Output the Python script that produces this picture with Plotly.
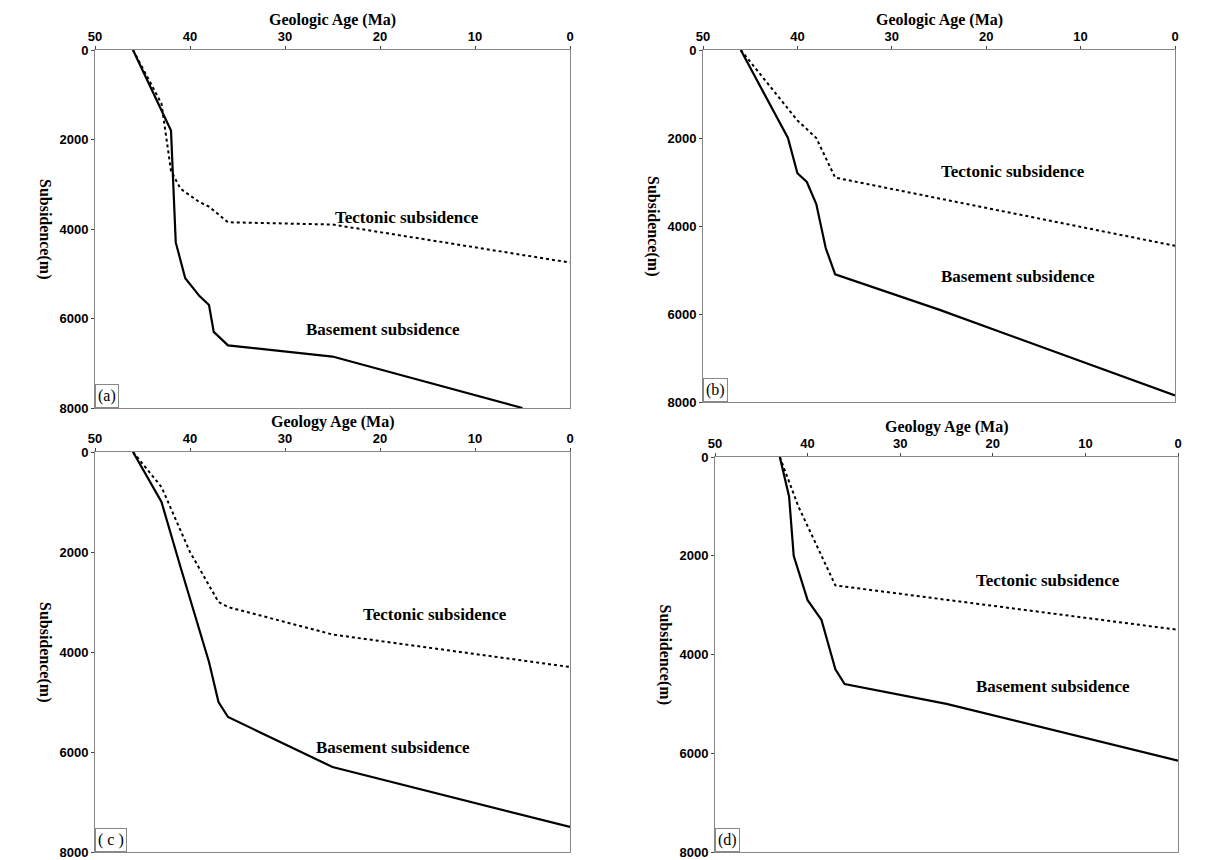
import plotly.graph_objects as go

# Panel data (age Ma, subsidence m)
a_base_x = [46, 42, 41.5, 40.5, 39, 38, 37.5, 36, 25, 5]
a_base_y = [0, 1800, 4300, 5100, 5500, 5700, 6300, 6600, 6850, 8000]
a_tect_x = [46, 43, 42, 41, 39, 38, 36, 25, 0]
a_tect_y = [0, 1200, 2700, 3100, 3400, 3500, 3850, 3900, 4750]

b_base_x = [46, 41, 40, 39, 38, 37, 36, 25, 0]
b_base_y = [0, 2000, 2800, 3000, 3500, 4500, 5100, 5900, 7850]
b_tect_x = [46, 40, 38, 36, 0]
b_tect_y = [0, 1600, 2000, 2900, 4450]

c_base_x = [46, 43, 41, 39, 38, 37, 36, 25, 0]
c_base_y = [0, 1000, 2300, 3600, 4200, 5000, 5300, 6300, 7500]
c_tect_x = [46, 43, 40, 37, 36, 25, 0]
c_tect_y = [0, 700, 2000, 3000, 3100, 3650, 4300]

d_base_x = [43, 42, 41.5, 40, 38.5, 37, 36, 25, 0]
d_base_y = [0, 800, 2000, 2900, 3300, 4300, 4600, 5000, 6150]
d_tect_x = [43, 41, 39, 38, 37, 0]
d_tect_y = [0, 1000, 1800, 2200, 2600, 3500]

titles = ["Geologic Age (Ma)", "Geologic Age (Ma)", "Geology Age (Ma)", "Geology Age (Ma)"]
letters = ["(a)", "(b)", "( c )", "(d)"]
tect_lbl = [(25, 3750), (25, 2750), (22, 3250), (22, 2500)]
base_lbl = [(28, 6250), (25, 5150), (27, 5900), (22, 4650)]

W, H = 1205, 860
OFF = 8  # page body margin
# pixel boxes (screenshot coords): x0, x1, y0(top), y1(bottom)
boxes = [(95, 570, 50, 408), (703, 1175, 50, 402), (95, 570, 452, 852), (715, 1178, 457, 852)]
data = [(a_base_x, a_base_y, a_tect_x, a_tect_y), (b_base_x, b_base_y, b_tect_x, b_tect_y),
        (c_base_x, c_base_y, c_tect_x, c_tect_y), (d_base_x, d_base_y, d_tect_x, d_tect_y)]

fig = go.Figure()
serif = "Liberation Serif"
for i, (bx, by, tx, ty) in enumerate(data):
    n = "" if i == 0 else str(i + 1)
    x0, x1, y0, y1 = [v - OFF for v in boxes[i]]
    fig.add_trace(go.Scatter(x=bx, y=by, mode="lines", line=dict(color="black", width=2.2),
                             xaxis="x" + n, yaxis="y" + n, showlegend=False))
    fig.add_trace(go.Scatter(x=tx, y=ty, mode="lines", line=dict(color="black", width=2, dash="dot"),
                             xaxis="x" + n, yaxis="y" + n, showlegend=False))
    ax = dict(domain=[x0 / W, x1 / W], range=[50, 0], side="top", showgrid=False, zeroline=False,
              showline=True, mirror=True, linecolor="#888", ticks="outside", ticklen=3,
              tickvals=[50, 40, 30, 20, 10, 0], anchor="y" + n,
              tickfont=dict(family="Liberation Sans", size=13, color="black", weight="bold"))
    ay = dict(domain=[1 - y1 / H, 1 - y0 / H], range=[8000, 0], showgrid=False, zeroline=False,
              showline=True, mirror=True, linecolor="#888", ticks="outside", ticklen=3,
              tickvals=[0, 2000, 4000, 6000, 8000], anchor="x" + n,
              tickfont=dict(family="Liberation Sans", size=13, color="black", weight="bold"))
    fig.update_layout(**{"xaxis" + n: ax, "yaxis" + n: ay})
    fig.add_annotation(x=(x0 + x1) / 2 / W, y=1 - (y0 - 30) / H, xref="paper", yref="paper",
                       xanchor="center", yanchor="middle",
                       text="<b>%s</b>" % titles[i], showarrow=False,
                       font=dict(family=serif, size=16, color="black"))
    fig.add_annotation(x=(x0 - 50) / W, y=1 - (y0 + y1) / 2 / H, xref="paper", yref="paper",
                       xanchor="center", yanchor="middle",
                       text="<b>Subsidence(m)</b>", textangle=90, showarrow=False,
                       font=dict(family=serif, size=16, color="black"))
    fig.add_annotation(x=tect_lbl[i][0], y=tect_lbl[i][1], xref="x" + n, yref="y" + n, xanchor="left",
                       text="<b>Tectonic subsidence</b>", showarrow=False,
                       font=dict(family=serif, size=17, color="black"))
    fig.add_annotation(x=base_lbl[i][0], y=base_lbl[i][1], xref="x" + n, yref="y" + n, xanchor="left",
                       text="<b>Basement subsidence</b>", showarrow=False,
                       font=dict(family=serif, size=17, color="black"))
    fig.add_annotation(x=50, y=8000, xref="x" + n, yref="y" + n, xanchor="left", yanchor="bottom",
                       text=letters[i], showarrow=False, bordercolor="#888", borderwidth=1, borderpad=2,
                       bgcolor="white", font=dict(family=serif, size=16, color="black"))

fig.update_layout(width=W, height=H, margin=dict(l=0, r=0, t=0, b=0, autoexpand=False),
                  paper_bgcolor="white", plot_bgcolor="white")
fig.write_html("out.html")
